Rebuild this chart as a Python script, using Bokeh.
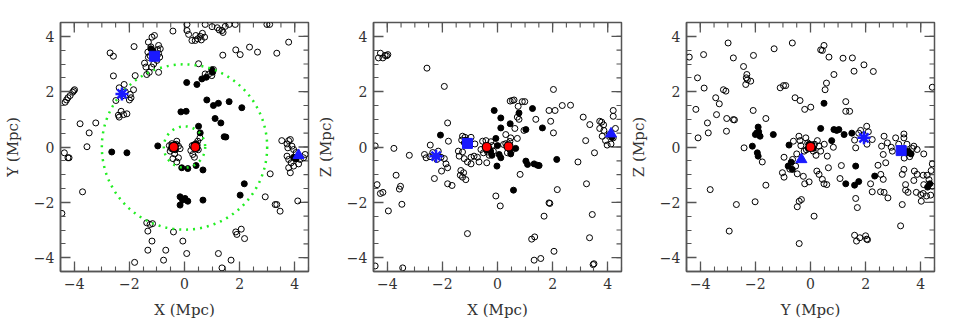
import math
from bokeh.plotting import figure
from bokeh.models import FixedTicker, Range1d
from bokeh.layouts import row
from bokeh.embed import file_html
from bokeh.resources import INLINE

# ---------------- data ----------------
TICK_VALUES = [-4, -2, 0, 2, 4]
TICK_LABELS = ["\u22124", "\u22122", "0", "2", "4"]
MINOR_TICKS = [-4.5, -4, -3.5, -3, -2.5, -2, -1.5, -1, -0.5, 0, 0.5, 1, 1.5, 2, 2.5, 3, 3.5, 4, 4.5]
AX_RANGE = [-4.5, 4.5]

# Panel 1: X-Y
p1_open_x = [0.09, 0.09, 0.15, 0.41, 0.48, 0.57, 0.65, 0.75, 0.27, 0.39, 0.61, 0.73, 1.00, 1.19, 1.26, 1.36, 1.40, 1.48, 1.62, 1.84, 2.99, 3.09, -0.42, 3.78, 3.35, 2.65, 2.36, 2.02, 1.86, 1.39, 0.51, -1.83, -2.70, -2.58, -2.58, -1.79,
             -1.09, -1.18, -1.31, -0.94, -0.88, -1.33, -0.94, -1.31, -1.00, -1.12, -1.45, -1.40, -1.28, -1.37, -0.94, -1.19, -1.22, -0.98, -1.25, -0.90,
             -2.37, -2.19, -1.85, -1.97, -1.94, -2.00, -2.49, -2.25, -2.15, -2.30, -2.37, -2.21, -2.09, -2.40,
             -4.33, -4.23, -4.15, -4.06, -3.99, -4.28, -4.02, 0.75, 0.99, 0.87, 1.05,
             -3.79, -3.46, -3.22, -3.54, -4.36, -4.23, -4.19,
             -0.46, -0.28, -0.22, -0.16, -0.36, -0.52, -0.42, -0.22, -0.28, -0.55, -0.30, -0.48,
             0.23, 0.30, 0.36, 0.46, 0.48, 0.56, 0.50, 0.28,
             3.53, 3.78, 3.84, 3.72, 3.75, 3.90, 3.96, 3.72, 3.78, 3.87, 3.78, 3.84, 3.96, 4.14, 4.32, 4.38, 3.11, 4.05, 4.20,
             -3.70, -4.45, 2.93, 3.29, 3.35, 3.47, 4.11, -1.37, -1.25, -1.16, -1.33, -0.40, -0.06, -1.18, 1.86, 1.90, 2.06, 2.18, -1.33, -0.68, 0.08, 1.23, -1.81, -0.76, 1.36, 1.69]
p1_open_y = [4.43, 4.21, 4.07, 4.03, 3.91, 4.00, 4.11, 4.43, 3.85, 3.85, 3.87, 3.97, 4.35, 4.31, 4.23, 4.21, 4.14, 4.36, 4.43, 4.43, 4.43, 4.43, 4.19, 3.79, 3.39, 3.43, 3.61, 3.34, 3.51, 3.32, 3.01, 3.63, 3.40, 3.28, 2.57, 2.58,
             4.03, 3.97, 3.79, 3.67, 3.55, 3.43, 3.37, 3.24, 3.13, 3.00, 3.03, 2.89, 2.70, 2.62, 2.70, 2.89, 3.62, 3.52, 3.30, 3.25,
             2.14, 2.26, 2.07, 1.90, 1.78, 1.70, 1.68, 1.85, 2.00, 1.29, 1.08, 1.17, 1.20, 1.15,
             1.62, 1.78, 1.86, 1.98, 2.07, 1.70, 2.03, 2.64, 2.58, 2.62, 2.80,
             0.84, 0.51, 0.87, 0.01, -0.21, -0.39, -0.39,
             0.12, 0.21, 0.03, -0.06, -0.25, -0.15, -0.42, -0.39, -0.54, 0.05, 0.10, -0.05,
             -0.13, -0.27, -0.37, 0.07, 0.21, 0.33, -0.10, 0.05,
             0.23, 0.23, 0.27, 0.11, -0.03, 0.03, -0.09, -0.33, -0.45, -0.57, -0.75, -0.93, -0.69, -0.61, -0.39, -0.27, -0.97, -0.20, -0.45,
             -1.62, -2.40, -1.80, -2.08, -2.08, -2.32, -1.95, -2.74, -2.80, -2.77, -3.04, -3.07, -3.40, -3.40, -3.07, -3.16, -2.97, -3.31, -3.73, -3.73, -3.85, -3.85, -4.17, -4.09, -4.37, -4.09]
p1_fill_x = [-1.22, -1.14, -1.16, 0.99, 1.02, 0.79, 0.63, 0.45, 0.08, 0.81, 1.23, 1.05, 1.62, 2.08, -0.13, 0.06, 1.11, 1.32, 0.51, 0.57, 1.44, 1.50, -0.97, -2.64, -2.09,
             -0.10, 0.12, 0.42, 0.67, 2.17, -0.16, -0.07, 0.02, 0.12, -0.16, 0.67, 2.02, -0.35, -0.45, -0.42, -0.33, 0.35, 0.45, 0.42, 3.96, 4.05]
p1_fill_y = [3.55, 3.48, 3.40, 2.79, 2.70, 2.52, 2.46, 2.26, 2.33, 1.70, 1.58, 1.50, 1.64, 1.42, 1.27, 1.29, 1.03, 0.87, 0.75, 0.51, 0.37, 0.36, 0.04, -0.18, -0.21,
             -0.75, -0.78, -0.67, -0.83, -1.33, -1.80, -1.92, -1.86, -1.96, -2.10, -1.92, -1.74, 0.08, 0.05, -0.08, -0.10, 0.08, -0.05, 0.12, -0.37, -0.43]
p1_red_x, p1_red_y = [-0.39, 0.39], [0.0, 0.0]
p1_square = (-1.09, 3.28)
p1_star = (-2.27, 1.92)
p1_tri = (4.14, -0.30)
ring_x = [0.0, 0.0]
ring_y = [0.0, 0.0]
ring_r = [3.0, 0.75]

# Panel 2: X-Z
p2_open_x = [-4.25, -4.32, -4.16, -4.08, -3.98, -4.02, -2.56, -1.93, 2.03, 0.46, 0.54, 0.60, 0.90, 0.99, 2.35, 2.65, 0.75,
             1.87, 2.09, 0.72, 0.78, 1.39, 1.93, 3.11, 3.35, 4.20, 4.20, 0.63, 0.96, 2.03, 0.30, 0.48, 0.72, 0.22, 0.36,
             -1.81, -1.78, -2.44, -3.76, -4.44, -3.20, -2.65, -2.59, -2.05, -1.93, -1.87, -1.81, -2.03, -2.29, -3.68, -4.37, -3.52, -1.81, -1.65,
             -1.27, -1.18, -0.96, -1.42, -1.27, -1.39, -1.21, -0.96, -0.85, -0.73, -1.09, -0.96, -0.67, -1.33, -1.23, -1.35, -1.27, -1.15, -0.82, -1.30, -1.00,
             -2.35, -2.20, -2.45, -2.15,
             -0.54, -0.42, -0.24, -0.60, -0.51, -0.36, -0.15, -0.39, -0.20, -0.30, 0.30, 0.50, 0.45,
             2.92, 3.20, 3.23, 3.52, 3.71, 3.78, 3.71, 3.86, 3.80, 3.92, 3.98, 4.12, 4.20, 4.28, 3.85, 4.05, 0.82, 2.17,
             -4.25, -4.16, -3.56, -3.96, -3.47, -0.06, 0.10, 1.87, 1.90, 1.69, 3.44, -1.09, 1.24, 1.35, 3.34, 2.05, 1.33, 1.57, 3.47, 3.50, -4.44, -3.44]
p2_open_y = [3.39, 3.22, 3.22, 3.31, 3.34, 3.30, 2.85, 2.19, 2.08, 1.66, 1.68, 1.70, 1.64, 1.64, 1.50, 1.51, 1.47,
             1.32, 1.32, 1.08, 1.00, 1.00, 0.93, 1.08, 0.81, 1.32, 1.11, 0.67, 0.60, 0.51, 0.45, 0.33, 0.31, 0.09, -0.21,
             0.87, 0.21, 0.07, -0.05, 0.04, -0.30, -0.27, -0.39, -0.37, -0.42, -0.61, -0.75, -0.87, -1.14, -1.02, -1.36, -1.42, -1.33, -1.39,
             0.39, 0.35, 0.35, -0.15, -0.18, -0.33, -0.42, -0.37, -0.33, -0.37, -0.54, -0.61, -0.54, -0.85, -0.93, -1.02, -1.09, -1.18, 0.11, 0.25, 0.20,
             -0.20, -0.45, -0.35, -0.15,
             0.21, 0.23, 0.19, -0.09, -0.21, -0.18, -0.15, -0.57, 0.05, -0.30, 0.12, -0.15, 0.20,
             -0.54, 0.23, -1.33, -0.21, 0.93, 0.90, 0.67, 0.60, 0.39, 0.23, 0.07, 0.11, 0.33, 0.67, 0.80, 0.45, -0.99, -1.54,
             -1.68, -1.64, -1.52, -2.31, -2.07, -1.77, -2.13, -2.02, -2.04, -2.50, -2.44, -3.13, -3.33, -3.25, -3.28, -3.77, -4.09, -4.03, -4.25, -4.22, -4.30, -4.37]
p2_fill_x = [-0.12, 0.78, 1.27, 0.12, 0.46, 0.12, 1.03, 1.63, -2.07, -0.06, 0.66, 0.06, 0.12, -0.02, 1.03, 1.09, 1.33, 1.45, 1.51, 2.15, 0.58,
             -0.30, -0.25, -0.20, -0.40, 0.45, 0.48, -1.20, -1.15, 4.15, 0.00]
p2_fill_y = [1.32, 1.23, 1.39, 1.05, 0.84, 0.69, 0.63, 0.69, 0.43, 0.31, -0.05, -0.27, -0.39, -0.69, -0.51, -0.63, -0.61, -0.66, -0.67, -0.45, -1.56,
             -0.05, -0.15, -0.30, -0.10, -0.10, -0.25, 0.15, 0.25, 0.35, 0.05]
p2_red_x, p2_red_y = [-0.39, 0.40], [0.0, 0.02]
p2_square = (-1.09, 0.13)
p2_star = (-2.23, -0.33)
p2_tri = (4.12, 0.48)

# Panel 3: Y-Z
p3_open_x = [-2.99, -0.66, -3.88, -4.40, -2.80, -2.07, -1.32, 0.49, 0.37, 0.43, 0.67, 1.18, 1.52, 1.94, 2.28, 1.58, 0.85, -2.43, -2.31, -2.33, -2.29, -2.35, -2.17, -4.10, -3.86, -3.16, -3.07, -3.44, -3.31, -1.10, -0.98, -0.90, -0.56, -0.38, 0.01, 0.58, 0.53, 1.28, 4.42,
             -4.16, -3.41, -3.04, -2.80, -2.76, -3.74, -3.71, -4.08, -3.05, -2.41, -1.75, -2.08, -1.62, -0.21, 1.28, 1.42, 1.82, 2.04, 2.24, 1.64, -0.96, -0.62, -0.38, -0.42, -0.17, 0.25, 0.31, 0.37, 0.61, -0.23, -0.54, -0.48, -1.02, -0.96, -0.26, -0.21, -0.05, 0.23, 0.31, 0.43, 0.49, 0.59, 0.83, 1.12, 1.07, 2.18, 2.55, 2.64, 2.45, 2.73, 2.64, 2.58, 2.79, 2.67, 3.09, 3.39, 3.39, 2.93, 2.97, 3.75, 3.87, 4.11, 4.42, 4.38, 4.09, 4.23, 3.87, 3.77, 3.33, 3.39, 3.45, 3.75, 4.30, 4.11, 4.42, -1.62, -3.64,
             0.15, -0.10, 0.10, -0.15, 0.20, -0.35, 0.50, -0.50, -0.65, -0.75, 0.65, 3.20, 3.55, 3.60, 3.40, 3.70, 3.50, 1.75, 2.10, 2.05, 1.60,
             -2.69, -2.01, -0.48, -0.41, -0.33, 0.13, -2.95, -0.41, 1.64, 1.70, 2.24, 2.54, 2.67, 2.81, 3.33, 3.27, 3.45, 3.54, 3.84, 4.00, 4.09, 4.21, 4.02, 4.36, 1.60, 1.67, 1.79, 2.00, 2.04, 2.07]
p3_open_y = [3.76, 3.76, 3.34, 3.25, 3.22, 3.31, 3.55, 3.67, 3.51, 3.49, 3.25, 3.21, 3.22, 2.97, 2.73, 2.74, 2.62, 2.91, 2.62, 2.50, 2.43, 2.26, 2.38, 2.50, 2.13, 2.07, 2.02, 1.78, 1.56, 2.14, 2.22, 2.22, 1.78, 1.68, 1.44, 2.31, 2.07, 1.64, 2.16,
             1.36, 1.17, 1.03, 0.99, 0.98, 0.87, 0.51, 0.33, 0.57, -0.03, -0.54, 1.32, 1.03, 1.36, 1.29, 1.29, 0.60, 0.75, 0.27, -0.03, -0.37, 0.21, 0.23, 0.39, 0.33, 0.23, 0.03, -0.15, -0.33, -0.15, -0.69, -0.97, -0.93, -1.09, -1.06, -1.33, -1.26, -0.87, -0.99, -1.17, -1.33, -1.36, -0.01, -0.67, -1.14, -1.33, -0.99, -1.17, -0.66, -0.57, -0.27, 0.03, 0.15, 0.39, 0.33, 0.47, 0.33, -0.01, -0.15, 0.03, -0.09, -0.25, -0.61, -0.85, -1.02, -1.02, -0.99, -0.87, -0.99, -0.81, -1.36, -1.21, -1.18, -1.36, -1.42, -1.38, -1.54,
             0.10, 0.15, -0.15, -0.10, -0.30, 0.05, 0.10, -0.25, -0.45, -0.80, -0.75, 0.10, -0.20, -0.35, -0.40, -0.05, 0.10, 0.50, 0.55, 0.10, 0.25,
             -2.08, -1.98, -2.16, -1.96, -1.90, -2.50, -3.04, -3.49, -1.86, -2.19, -1.62, -1.62, -1.64, -1.84, -2.08, -2.85, -1.56, -1.64, -1.64, -1.72, -1.68, -1.77, -1.96, -1.74, -3.19, -3.40, -3.28, -3.21, -3.33, -3.35]
p3_fill_x = [0.49, -1.90, -1.95, -1.83, -1.35, -2.11, -1.93, -1.90, 0.37, 0.85, 1.03, 0.77, 1.22, -0.78, -0.81, -0.66, 1.64, 2.33, 1.28, 1.60, 4.33, 3.45, 3.55, 3.65,
             0.05, -0.08, 0.10, -0.05, -2.00, -1.88, 0.95, 1.50, -0.70, 4.25, 1.75]
p3_fill_y = [1.58, 0.72, 0.51, 0.39, 0.45, 0.03, -0.21, -0.33, 0.67, 0.63, 0.63, 0.23, 0.45, 0.07, -0.69, -0.81, -0.69, -1.05, -1.33, -1.38, -1.33, -0.21, -0.15, -0.25,
             0.08, -0.05, -0.05, 0.10, 0.45, 0.55, 0.60, 0.50, -0.55, -1.45, -1.25]
p3_red_x, p3_red_y = [0.0], [0.0]
p3_square = (3.29, -0.13)
p3_star = (1.94, 0.33)
p3_tri = (-0.33, -0.45)

# ---------------- styling ----------------
AXC = "#555555"
TXT = "#333333"
FONT = "DejaVu Serif"
BLUE = "#1a1aff"
GREEN = "#22ee22"
MAJOR_LEN = 10
MINOR_LEN = 5


def style_axis(ax):
    ax.ticker = FixedTicker(ticks=TICK_VALUES, minor_ticks=MINOR_TICKS)
    ax.major_label_overrides = {v: l for v, l in zip(TICK_VALUES, TICK_LABELS)}
    ax.major_tick_in = MAJOR_LEN
    ax.major_tick_out = 0
    ax.minor_tick_in = MINOR_LEN
    ax.minor_tick_out = 0
    ax.axis_line_color = AXC
    ax.axis_line_width = 1.5
    ax.major_tick_line_color = AXC
    ax.major_tick_line_width = 1.3
    ax.minor_tick_line_color = AXC
    ax.minor_tick_line_width = 1.1
    ax.major_label_text_font = FONT
    ax.major_label_text_color = TXT
    ax.major_label_text_font_size = "14px"
    ax.major_label_standoff = 6
    ax.axis_label_text_font = FONT
    ax.axis_label_text_color = TXT
    ax.axis_label_text_font_style = "normal"
    ax.axis_label_text_font_size = "15px"
    ax.axis_label_standoff = 9


def edge_ticks(p):
    # tick marks on the top and right frame edges (mirroring the bottom/left axes)
    hi = AX_RANGE[1]
    for vals, ln, w in ((TICK_VALUES, MAJOR_LEN, 1.3), (MINOR_TICKS, MINOR_LEN, 1.1)):
        p.ray(x=vals, y=[hi] * len(vals), length=ln, length_units="screen",
              angle=-math.pi / 2, line_color=AXC, line_width=w)
        p.ray(x=[hi] * len(vals), y=vals, length=ln, length_units="screen",
              angle=math.pi, line_color=AXC, line_width=w)


def panel(xlabel, ylabel, ox, oy, fx, fy, rx, ry, sq, st, tr, rings=False):
    p = figure(frame_width=248, frame_height=249,
               x_range=Range1d(*AX_RANGE), y_range=Range1d(*AX_RANGE),
               output_backend="svg", toolbar_location=None,
               min_border_left=57, min_border_right=5, min_border_top=22, min_border_bottom=46)
    p.grid.visible = False
    p.outline_line_color = AXC
    p.outline_line_width = 1.5
    p.xaxis.axis_label = xlabel
    p.yaxis.axis_label = ylabel
    style_axis(p.xaxis[0])
    style_axis(p.yaxis[0])
    edge_ticks(p)

    p.scatter(ox, oy, size=6, marker="circle", fill_color=None, line_color="black", line_width=1)
    p.scatter(fx, fy, size=6, marker="circle", fill_color="black", line_color="black")
    if rings:
        p.circle(x=ring_x, y=ring_y, radius=ring_r, fill_color=None, line_color=GREEN,
                 line_width=2.5, line_dash="2 5")
    p.scatter(rx, ry, size=9, marker="circle", fill_color="red", line_color="black", line_width=1.2)
    p.scatter([sq[0]], [sq[1]], size=10, marker="square", fill_color=BLUE, line_color=BLUE)
    p.scatter([st[0]], [st[1]], size=13, marker="asterisk", line_color=BLUE, line_width=2.5)
    p.scatter([tr[0]], [tr[1]], size=11, marker="triangle", fill_color=BLUE, line_color=BLUE)
    return p


p1 = panel("X (Mpc)", "Y (Mpc)", p1_open_x, p1_open_y, p1_fill_x, p1_fill_y,
           p1_red_x, p1_red_y, p1_square, p1_star, p1_tri, rings=True)
p2 = panel("X (Mpc)", "Z (Mpc)", p2_open_x, p2_open_y, p2_fill_x, p2_fill_y,
           p2_red_x, p2_red_y, p2_square, p2_star, p2_tri)
p3 = panel("Y (Mpc)", "Z (Mpc)", p3_open_x, p3_open_y, p3_fill_x, p3_fill_y,
           p3_red_x, p3_red_y, p3_square, p3_star, p3_tri)

layout = row(p1, p2, p3)
open("out.html", "w").write(file_html(layout, INLINE))
